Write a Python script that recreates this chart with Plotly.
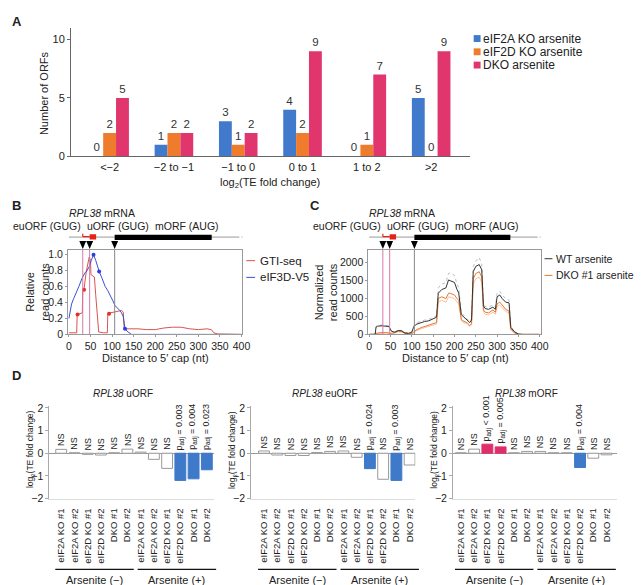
import plotly.graph_objects as go

W, H = 643, 585
FONT = "Liberation Sans, Arial, sans-serif"

def fx(px):
    return px / W

def fy(py):
    return 1 - py / H

# ---------------- Panel A data ----------------
a_categories = ["<−2", "−2 to −1", "−1 to 0", "0 to 1", "1 to 2", ">2"]
a_series = ["eIF2A KO arsenite", "eIF2D KO arsenite", "DKO arsenite"]
a_eif2a = [0, 1, 3, 4, 0, 5]
a_eif2d = [2, 2, 1, 2, 1, 0]
a_dko = [5, 2, 2, 9, 7, 9]
a_colors = ["#4179cc", "#ef7b2c", "#e0356d"]

# ---------------- Panel B data ----------------
gti_x = [0, 18, 19, 25, 31, 32, 35, 40, 44, 47, 50, 51, 56, 59, 62, 65, 69, 80, 89, 90, 95, 105, 115, 122, 126, 128,
         140, 160, 180, 200, 220, 240, 260, 280, 300, 320, 330, 336, 345, 400]
gti_y = [0.02, 0.02, 0.25, 0.26, 0.27, 0.55, 0.57, 0.78, 0.92, 0.97, 0.93, 0.75, 0.73, 0.72, 0.5, 0.25, 0.03, 0.02,
         0.02, 0.25, 0.27, 0.28, 0.29, 0.3, 0.28, 0.07, 0.07, 0.07, 0.06, 0.06, 0.08, 0.09, 0.09, 0.07, 0.06, 0.07,
         0.06, 0.02, 0.005, 0.0]
eif3d_x = [0, 3, 6, 11, 17, 23, 30, 37, 42, 47, 52, 57, 62, 70, 77, 84, 90, 95, 101, 107, 113, 118, 122, 126, 130,
           137, 145, 160, 400]
eif3d_y = [0.2, 0.3, 0.38, 0.45, 0.52, 0.6, 0.7, 0.77, 0.8, 0.85, 0.93, 1.0, 0.93, 0.79, 0.7, 0.6, 0.55, 0.5, 0.43,
           0.36, 0.33, 0.3, 0.27, 0.22, 0.07, 0.03, 0.0, 0.0, 0.0]
gti_dot_x = [20, 35, 93]
gti_dot_y = [0.25, 0.56, 0.26]
eif3d_dot_x = [57, 70, 130]
eif3d_dot_y = [1.0, 0.79, 0.07]
b_series = ["GTI-seq", "eIF3D-V5"]

# ---------------- Panel C data ----------------
c_x = [0, 14, 16, 20, 30, 40, 46, 52, 60, 68, 76, 84, 92, 100, 104, 110, 120, 130, 140, 150, 158, 162, 170, 180,
       186, 190, 200, 206, 210, 216, 220, 230, 236, 240, 244, 250, 258, 264, 268, 272, 280, 290, 296, 300, 306, 312,
       320, 328, 332, 340, 350, 360, 400]
wt_mean = [0, 5, 200, 230, 240, 230, 220, 90, 60, 110, 100, 40, 30, 60, 200, 280, 330, 360, 380, 430, 480, 1150,
           1250, 1300, 1520, 1500, 1450, 1250, 1150, 550, 500, 400, 330, 400, 1750, 1900, 1950, 1800, 800, 720, 700,
           760, 700, 1050, 1100, 1000, 900, 880, 200, 80, 10, 0, 0]
wt_rep = [0, 5, 220, 260, 260, 250, 240, 100, 70, 120, 110, 50, 40, 70, 230, 320, 370, 400, 420, 470, 520, 1300,
          1400, 1450, 1700, 1720, 1650, 1400, 1300, 600, 550, 450, 360, 430, 1900, 2050, 2150, 1950, 850, 780, 760,
          820, 760, 1150, 1200, 1100, 1000, 950, 220, 90, 10, 0, 0]
dko_mean = [0, 0, 30, 40, 50, 50, 40, 30, 50, 90, 80, 30, 20, 20, 60, 120, 180, 220, 250, 290, 330, 1000, 1050,
            1000, 1150, 1150, 1100, 1000, 950, 420, 380, 320, 250, 300, 1550, 1700, 1750, 1600, 680, 620, 600, 680,
            620, 850, 900, 820, 700, 650, 150, 50, 5, 0, 0]
dko_rep = [0, 0, 25, 30, 40, 40, 30, 25, 40, 70, 60, 25, 15, 15, 50, 100, 150, 190, 220, 250, 290, 900, 950, 900,
           1050, 1040, 1000, 900, 850, 380, 340, 290, 220, 270, 1400, 1550, 1600, 1450, 620, 560, 540, 620, 560,
           780, 820, 750, 640, 600, 130, 45, 5, 0, 0]
c_series = ["WT arsenite", "DKO #1 arsenite"]

# ---------------- gene model (nt positions) ----------------
start_sites = [32, 48, 106]
euorf_span = [32, 48]
uorf_span = [48, 63]
morf_span = [106, 331]
mrna_end = 395

# ---------------- Panel D data ----------------
d_samples = ["eIF2A KO #1", "eIF2A KO #2", "eIF2D KO #1", "eIF2D KO #2", "DKO #1", "DKO #2"] * 2
d_groups = ["Arsenite (−)", "Arsenite (+)"]
d_titles = ["uORF", "euORF", "mORF"]
uorf_vals = [0.17, 0.02, -0.05, -0.08, 0.02, 0.18, 0.05, -0.27, -0.67, -1.2, -1.13, -0.73]
uorf_labels = ["NS"] * 9 + ["p<sub>adj</sub> = 0.003", "p<sub>adj</sub> = 0.004", "p<sub>adj</sub> = 0.023"]
euorf_vals = [0.1, -0.08, -0.1, -0.1, 0.03, 0.08, 0.1, -0.18, -0.68, -1.15, -1.2, -0.52]
euorf_labels = ["NS"] * 8 + ["p<sub>adj</sub> = 0.024", "NS", "p<sub>adj</sub> = 0.003", "NS"]
morf_vals = [0.02, 0.18, 0.4, 0.28, 0.02, 0.08, 0.08, 0.02, 0.02, -0.63, -0.22, -0.07]
morf_labels = ["NS", "NS", "p<sub>adj</sub> < 0.001", "p<sub>adj</sub> = 0.005", "NS", "NS", "NS", "NS", "NS",
               "p<sub>adj</sub> = 0.004", "NS", "NS"]

fig = go.Figure()
shapes = []
annotations = []


def ann(text, x, y, size, angle=0, xanchor="center", yanchor="middle", xref="paper", yref="paper", **kw):
    if xref == "paper":
        x = fx(x)
    if yref == "paper":
        y = fy(y)
    d = dict(text=text, x=x, y=y, xref=xref, yref=yref, xanchor=xanchor, yanchor=yanchor, textangle=angle,
             showarrow=False, font=dict(size=size, color="#222"), borderpad=0)
    d.update(kw)
    annotations.append(d)


# ================= Panel A =================
for name, vals, col in zip(a_series, [a_eif2a, a_eif2d, a_dko], a_colors):
    fig.add_trace(go.Bar(
        x=a_categories, y=vals, name=name, marker=dict(color=col, line=dict(width=0)),
        text=vals, textposition="outside", textfont=dict(size=11.5, color="#333"),
        cliponaxis=False, constraintext="none", xaxis="x", yaxis="y", showlegend=False))

for i, (name, col) in enumerate(zip(a_series, a_colors)):
    yc = 27 + i * 13.5
    shapes.append(dict(type="rect", xref="paper", yref="paper", x0=fx(471), x1=fx(478),
                       y0=fy(yc + 3.5), y1=fy(yc - 3.5), fillcolor=col, line=dict(width=0)))
    ann(name, 479, yc, 12, xanchor="left")

ann("log<sub>2</sub>(TE fold change)", 264, 174, 11)
ann("Number of ORFs", 34, 82, 11, angle=-90)

# ================= Panel B =================
fig.add_trace(go.Scatter(x=gti_x, y=gti_y, mode="lines", line=dict(color="#d9544f", width=1),
                         xaxis="x2", yaxis="y2", showlegend=False))
fig.add_trace(go.Scatter(x=eif3d_x, y=eif3d_y, mode="lines", line=dict(color="#3b50d0", width=1),
                         xaxis="x2", yaxis="y2", showlegend=False))
fig.add_trace(go.Scatter(x=gti_dot_x, y=gti_dot_y, mode="markers", marker=dict(color="#e0302a", size=4),
                         xaxis="x2", yaxis="y2", showlegend=False))
fig.add_trace(go.Scatter(x=eif3d_dot_x, y=eif3d_dot_y, mode="markers", marker=dict(color="#2a40e0", size=4),
                         xaxis="x2", yaxis="y2", showlegend=False))

# ================= Panel C =================
fig.add_trace(go.Scatter(x=c_x, y=wt_rep, mode="lines", line=dict(color="#aaaaaa", width=0.8, dash="dot"),
                         xaxis="x3", yaxis="y3", showlegend=False))
fig.add_trace(go.Scatter(x=c_x, y=dko_rep, mode="lines", line=dict(color="#f3b48a", width=0.8),
                         xaxis="x3", yaxis="y3", showlegend=False))
fig.add_trace(go.Scatter(x=c_x, y=dko_mean, mode="lines", line=dict(color="#e8772e", width=1),
                         xaxis="x3", yaxis="y3", showlegend=False))
fig.add_trace(go.Scatter(x=c_x, y=wt_mean, mode="lines", line=dict(color="#333333", width=1),
                         xaxis="x3", yaxis="y3", showlegend=False))

for xr, left in [("x2", 59), ("x3", 364)]:
    shapes.append(dict(type="line", xref=xr, yref="paper", x0=0, x1=mrna_end, y0=fy(229), y1=fy(229),
                       line=dict(color="#999", width=1)))
    shapes.append(dict(type="line", xref=xr, yref="paper", x0=mrna_end + 5, x1=mrna_end + 35, y0=fy(229),
                       y1=fy(229), line=dict(color="#999", width=1, dash="dot")))
    shapes.append(dict(type="line", xref=xr, yref="paper", x0=euorf_span[0], x1=euorf_span[1], y0=fy(228.5),
                       y1=fy(228.5), line=dict(color="#e8201a", width=1.2)))
    shapes.append(dict(type="line", xref=xr, yref="paper", x0=euorf_span[0], x1=euorf_span[0], y0=fy(228.5),
                       y1=fy(225.5), line=dict(color="#e8201a", width=1.2)))
    shapes.append(dict(type="rect", xref=xr, yref="paper", x0=uorf_span[0], x1=uorf_span[1], y0=fy(231.5),
                       y1=fy(226), fillcolor="#e8201a", line=dict(width=0)))
    shapes.append(dict(type="rect", xref=xr, yref="paper", x0=morf_span[0], x1=morf_span[1], y0=fy(232),
                       y1=fy(226.5), fillcolor="#000", line=dict(width=0)))
    for j, s in enumerate(start_sites):
        path = "M {a},{t} L {b},{t} L {s},{bt} Z".format(a=s - 8, b=s + 8, s=s, t=fy(233), bt=fy(241))
        shapes.append(dict(type="path", xref=xr, yref="paper", path=path, fillcolor="#000", line=dict(width=0)))
        col = "#d67aa6" if j < 2 else "#888"
        shapes.append(dict(type="line", xref=xr, yref="paper", x0=s, x1=s, y0=fy(328), y1=fy(242),
                           line=dict(color=col, width=1)))
    ann("<i>RPL38</i> mRNA", left + 34, 205, 10.5)
    ann("euORF (GUG)", left + 14, 218, 10.5, xanchor="right")
    ann("uORF (GUG)", left + 18, 218, 10.5, xanchor="left")
    ann("mORF (AUG)", left + 121, 218, 10.5)
    ann("Distance to 5′ cap (nt)", left + 89, 352, 11)

for i, (name, col) in enumerate(zip(b_series, ["#d9544f", "#3b50d0"])):
    yc = 253 + i * 17
    shapes.append(dict(type="line", xref="paper", yref="paper", x0=fx(240), x1=fx(249), y0=fy(yc), y1=fy(yc),
                       line=dict(color=col, width=1)))
    ann(name, 253, yc, 11.5, xanchor="left")
for i, (name, col) in enumerate(zip(c_series, ["#333333", "#e8772e"])):
    yc = 251 + i * 17
    shapes.append(dict(type="line", xref="paper", yref="paper", x0=fx(543), x1=fx(551), y0=fy(yc), y1=fy(yc),
                       line=dict(color=col, width=1)))
    ann(name, 554, yc, 10.5, xanchor="left")

ann("Relative<br>read counts", 28, 285, 11, angle=-90)
ann("Normalized<br>read counts", 321, 285, 11, angle=-90)

# ================= Panel D =================
d_vals = [uorf_vals, euorf_vals, morf_vals]
d_labs = [uorf_labels, euorf_labels, morf_labels]
d_axis_left = [40, 245, 450]
d_first = [52, 258, 458]
spacing = 13.45
for p in range(3):
    xa = "x%d" % (4 + p)
    ya = "y%d" % (4 + p)
    vals = d_vals[p]
    labs = d_labs[p]
    cols = []
    lcols = []
    for v, lab in zip(vals, labs):
        if lab == "NS":
            cols.append("#ffffff")
            lcols.append("#9a9a9a")
        elif v < 0:
            cols.append("#3f79c9")
            lcols.append("#3f79c9")
        else:
            cols.append("#df2f6b")
            lcols.append("#df2f6b")
    idx = list(range(len(vals)))
    fig.add_trace(go.Bar(x=idx, y=vals, marker=dict(color=cols, line=dict(color=lcols, width=1)),
                         width=0.82, xaxis=xa, yaxis=ya, showlegend=False))
    for k, (v, lab) in enumerate(zip(vals, labs)):
        ann(lab, k, max(v, 0), 9, angle=-90, xanchor="center", yanchor="bottom", xref=xa, yref=ya, yshift=2)
    left = d_axis_left[p]
    ann("<i>RPL38</i> " + d_titles[p], left + 75, 388, 10)
    ann("log<sub>2</sub>(TE fold change)", left - 19, 445, 8.5, angle=-90)
    for g, name in enumerate(d_groups):
        x0 = d_first[p] - 6 + g * 6 * spacing + (3 if g == 1 else 0)
        x1 = d_first[p] - 6 + (g + 1) * 6 * spacing - (1 if g == 0 else -2)
        shapes.append(dict(type="line", xref="paper", yref="paper", x0=fx(x0), x1=fx(x1), y0=fy(567), y1=fy(567),
                           line=dict(color="#111", width=1.2)))
        ann(name, (x0 + x1) / 2, 578, 11)

for letter, px, py in [("A", 7, 10), ("B", 7, 197), ("C", 310, 197), ("D", 7, 370)]:
    ann("<b>%s</b>" % letter, px, py, 13)

axis_common = dict(showgrid=False, zeroline=False, tickfont=dict(size=11, color="#222"))
axis_bc = dict(showgrid=False, zeroline=False, tickfont=dict(size=10.5, color="#222"))

layout = dict(
    width=W, height=H, margin=dict(l=0, r=0, t=0, b=0), paper_bgcolor="white", plot_bgcolor="white",
    font=dict(family=FONT, color="#222"), bargap=0.4, bargroupgap=0, barmode="group",
    shapes=shapes, annotations=annotations,
    xaxis=dict(domain=[fx(62), fx(467)], anchor="y", range=[-0.6, 5.6], showline=True, linecolor="#666",
               ticks="", **axis_common),
    yaxis=dict(domain=[fy(147), fy(16)], anchor="x", range=[0, 11], showline=True, linecolor="#666",
               ticks="outside", ticklen=3, tickcolor="#666", tickvals=[0, 5, 10], **axis_common),
    xaxis2=dict(domain=[fx(59), fx(236)], anchor="y2", range=[-2, 402], showline=True, mirror=True,
                linecolor="#999", ticks="outside", ticklen=2, tickcolor="#999", dtick=50, **axis_bc),
    yaxis2=dict(domain=[fy(328), fy(242)], anchor="x2", range=[0, 1.06], showline=True, mirror=True,
                linecolor="#999", ticks="outside", ticklen=2, tickcolor="#999",
                tickvals=[0, 0.2, 0.4, 0.6, 0.8, 1.0], ticktext=["0", "0.2", "0.4", "0.6", "0.8", "1.0"],
                **axis_bc),
    xaxis3=dict(domain=[fx(364), fx(539)], anchor="y3", range=[-2, 402], showline=True, mirror=True,
                linecolor="#999", ticks="outside", ticklen=2, tickcolor="#999", dtick=50, **axis_bc),
    yaxis3=dict(domain=[fy(328), fy(242)], anchor="x3", range=[0, 2360], showline=True, mirror=True,
                linecolor="#999", ticks="outside", ticklen=2, tickcolor="#999", tickvals=[0, 500, 1000, 1500, 2000],
                **axis_bc),
)
for p in range(3):
    left = d_axis_left[p]
    start = -(d_first[p] - left) / spacing
    right = left + 12.4 * spacing
    layout["xaxis%d" % (4 + p)] = dict(
        domain=[fx(left), fx(right)], anchor="y%d" % (4 + p), range=[start, start + 12.4], showline=True,
        linecolor="#ddd", tickmode="array", tickvals=list(range(12)), ticktext=d_samples, tickangle=-90,
        ticks="", ticklabelstandoff=5, showgrid=False, zeroline=False, tickfont=dict(size=9.5, color="#222"))
    layout["yaxis%d" % (4 + p)] = dict(
        domain=[fy(495), fy(400.5)], anchor="x%d" % (4 + p), range=[-2, 2.1], showline=True, linecolor="#aaa",
        ticks="outside", ticklen=3, tickcolor="#aaa", tickvals=[-2, -1, 0, 1, 2],
        ticktext=["−2", "−1", "0", "1", "2"], showgrid=False, zeroline=True, zerolinecolor="#999",
        zerolinewidth=1, tickfont=dict(size=10.5, color="#222"))

fig.update_layout(**layout)
fig.write_html("out.html")
